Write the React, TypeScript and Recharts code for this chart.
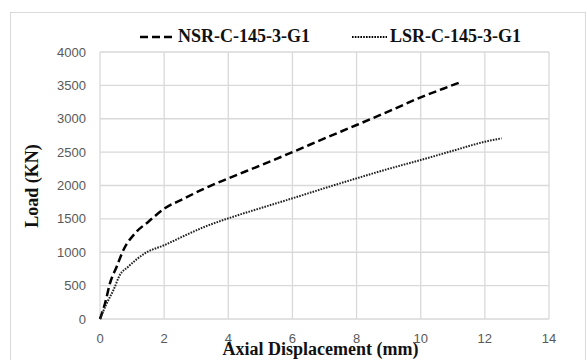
import { LineChart, Line, XAxis, YAxis, CartesianGrid, Legend, Label } from 'recharts';

// Axial displacement (mm) vs load (KN)
const nsrDisp = [0, 0.16, 0.31, 0.52, 0.73, 1.09, 1.51, 2.02, 2.6, 3.27, 4, 5, 6, 7, 8, 9, 10, 10.7, 11.28];
const nsrLoad = [0, 240, 534, 784, 1034, 1283, 1458, 1658, 1800, 1958, 2107, 2300, 2500, 2705, 2906, 3110, 3321, 3450, 3556];

const lsrDisp = [0, 0.21, 0.42, 0.62, 0.88, 1.4, 2.02, 2.6, 3.27, 4, 5, 6, 7, 8, 9, 10, 11, 12, 12.52];
const lsrLoad = [0, 235, 434, 659, 784, 984, 1109, 1240, 1383, 1508, 1660, 1808, 1960, 2107, 2250, 2382, 2520, 2656, 2707];

const seriesNames = ['NSR-C-145-3-G1', 'LSR-C-145-3-G1'];
const xTicks = [0, 2, 4, 6, 8, 10, 12, 14];
const yTicks = [0, 500, 1000, 1500, 2000, 2500, 3000, 3500, 4000];

const nsrData = nsrDisp.map((d, i) => ({ disp: d, load: nsrLoad[i] }));
const lsrData = lsrDisp.map((d, i) => ({ disp: d, load: lsrLoad[i] }));

const serif = '"Liberation Serif", "Times New Roman", serif';
const sans = '"Liberation Sans", Arial, sans-serif';

const renderLegend = (props: any) => {
  const items = [...(props.payload || [])].sort(
    (a: any, b: any) => seriesNames.indexOf(a.value) - seriesNames.indexOf(b.value)
  );
  return (
    <div style={{ display: 'flex', paddingLeft: 140, gap: 42, alignItems: 'center' }}>
      {items.map((entry: any) => (
        <div key={entry.value} style={{ display: 'flex', alignItems: 'center' }}>
          <svg width={35} height={10}>
            <line
              x1={0}
              y1={5}
              x2={35}
              y2={5}
              stroke="#000"
              strokeWidth={entry.payload.strokeWidth}
              strokeDasharray={entry.payload.strokeDasharray}
            />
          </svg>
          <span style={{ marginLeft: 3, fontFamily: serif, fontWeight: 'bold', fontSize: 18, color: '#111' }}>
            {entry.value}
          </span>
        </div>
      ))}
    </div>
  );
};

const App = () => {
  return (
    <div style={{ position: 'absolute', left: 0, top: 0, width: 587, height: 360, background: '#fff', overflow: 'hidden' }}>
      <div
        style={{
          position: 'absolute',
          left: 10,
          top: 12,
          width: 574,
          height: 400,
          border: '1px solid #d9d9d9',
        }}
      />
      <LineChart width={587} height={360} data={nsrData} margin={{ top: 52, right: 38, left: 0, bottom: 0 }}>
        <CartesianGrid stroke="#d9d9d9" strokeWidth={1.3} />
        <XAxis
          dataKey="disp"
          type="number"
          domain={[0, 14]}
          ticks={xTicks}
          height={41}
          axisLine={false}
          tickLine={false}
          tickMargin={9}
          tick={{ fill: '#595959', fontSize: 13, fontFamily: sans }}
        >
          <Label
            value="Axial Displacement (mm)"
            position="insideBottom"
            offset={5}
            dx={-4}
            style={{ fontFamily: serif, fontWeight: 'bold', fontSize: 18, fill: '#111' }}
          />
        </XAxis>
        <YAxis
          type="number"
          domain={[0, 4000]}
          ticks={yTicks}
          width={100}
          axisLine={false}
          tickLine={false}
          tickMargin={8}
          tick={{ fill: '#595959', fontSize: 13, fontFamily: sans }}
        >
          <Label
            content={() => (
              <text
                x={32}
                y={186}
                transform="rotate(-90 32 186)"
                textAnchor="middle"
                dominantBaseline="central"
                style={{ fontFamily: serif, fontWeight: 'bold', fontSize: 18, fill: '#111' }}
              >
                Load (KN)
              </text>
            )}
          />
        </YAxis>
        <Legend
          verticalAlign="middle"
          align="center"
          content={renderLegend}
          wrapperStyle={{ top: 26, left: 0, width: 587 }}
        />
        <Line
          data={nsrData}
          dataKey="load"
          name={seriesNames[0]}
          type="monotone"
          stroke="#000"
          strokeWidth={2.5}
          strokeDasharray="8 4"
          dot={false}
          isAnimationActive={false}
        />
        <Line
          data={lsrData}
          dataKey="load"
          name={seriesNames[1]}
          type="monotone"
          stroke="#222"
          strokeWidth={2}
          strokeDasharray="1.6 1.2"
          dot={false}
          isAnimationActive={false}
        />
      </LineChart>
    </div>
  );
};

export default App;
